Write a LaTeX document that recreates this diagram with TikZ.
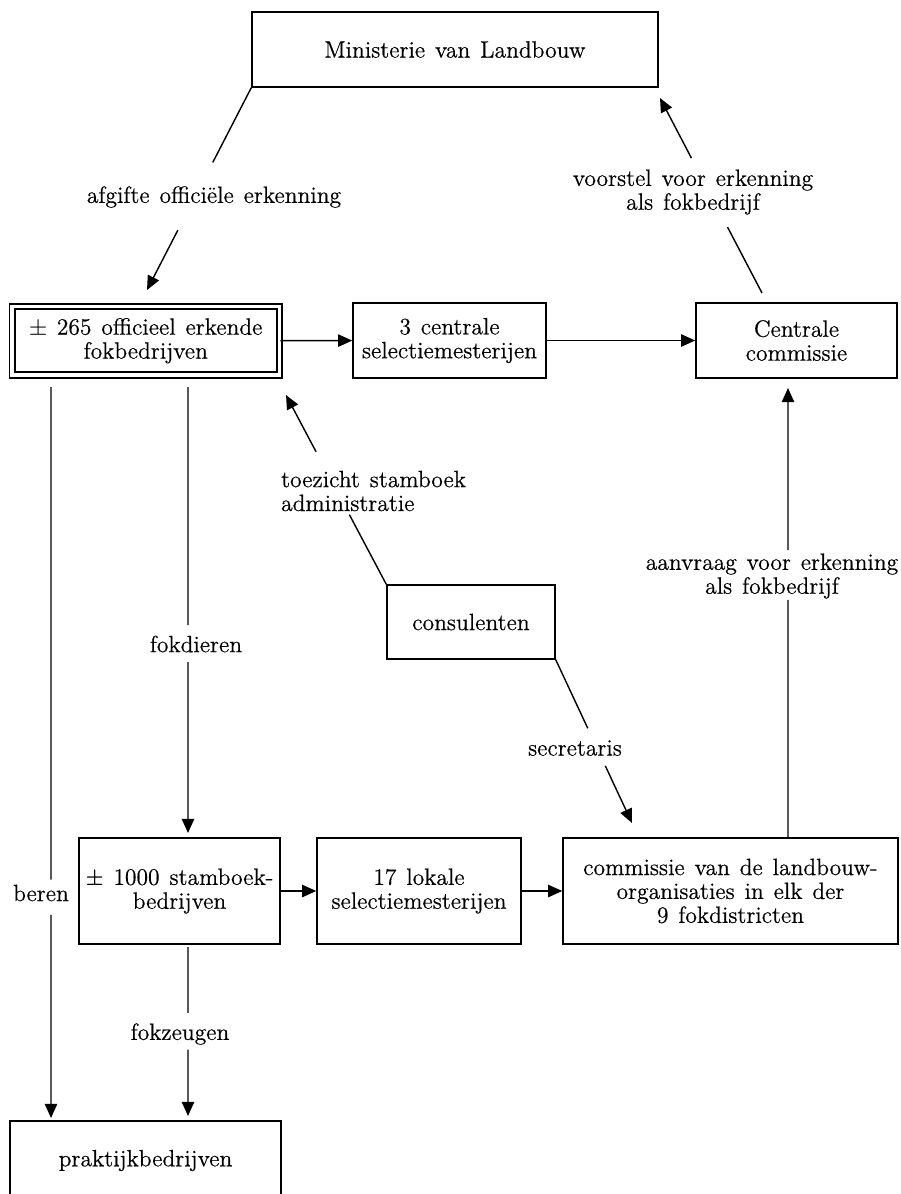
\documentclass[tikz,border=0pt]{standalone}
\usepackage{fontspec}
\setmainfont{Latin Modern Roman}[FakeBold=0.5]
\usepackage{tikz}
\usetikzlibrary{calc,arrows.meta}
\def\gapline(#1)(#2)(#3:#4){\draw[con] (#1) -- ($(#1)!#3!(#2)$); \draw[arr] ($(#1)!#4!(#2)$) -- (#2);}
\def\diagfont{\fontsize{13.4}{13.6}\selectfont\spaceskip=0.42em plus 0.1em minus 0.05em\relax}
\tikzset{
  box/.style={draw, line width=0.9pt, align=center, inner sep=2pt},
  lbl/.style={align=center, inner sep=1pt},
  con/.style={line width=0.8pt},
  arr/.style={line width=0.8pt, -{Triangle[length=8pt,width=7pt]}}
}

\begin{document}
\begin{tikzpicture}[x=0.02cm, y=-0.02cm, font=\diagfont]
			%%%%% START %%%%%
			\useasboundingbox (0,0) rectangle (900,1194);
			\clip (0,0) rectangle (900,1194);
			
			\node[box, minimum width=8.12cm, minimum height=1.5cm] (min) at (455,49.5) {Ministerie van Landbouw};
			
			\node[box, double, double distance=2.2pt, minimum width=5.35cm, minimum height=1.37cm] (b265) at (145.75,340.75) {± 265 officieel erkende\\fokbedrijven};
			\node[box, minimum width=3.86cm, minimum height=1.5cm] (c3) at (449.5,340.5) {3 centrale\\selectiemesterijen};
			\node[box, minimum width=4.02cm, minimum height=1.5cm] (cc) at (796.5,340.5) {Centrale\\commissie};
			
			\node[box, minimum width=3.36cm, minimum height=1.48cm] (cons) at (471,622) {consulenten};
			
			\node[box, minimum width=4.02cm, minimum height=2.12cm] (b1000) at (179.5,891) {± 1000 stamboek-\\bedrijven};
			\node[box, minimum width=4.08cm, minimum height=2.12cm] (l17) at (419,891) {17 lokale\\selectiemesterijen};
			\node[box, minimum width=6.7cm, minimum height=2.12cm] (com) at (730.5,891) {commissie van de landbouw-\\organisaties in elk der\\9 fokdistricten};
			
			\node[box, minimum width=5.42cm, minimum height=1.58cm] (prak) at (145.5,1160.5) {praktijkbedrijven};
			
			% labels on the connectors
			\node[lbl] (afg) at (214,197) {afgifte officiële erkenning};
			\node[lbl] (vst) at (693,192) {voorstel voor erkenning\\als fokbedrijf};
			\node[lbl, anchor=west, align=left] (tzt) at (279,491) {toezicht stamboek\\administratie};
			\node[lbl] (aanv) at (772,576) {aanvraag voor erkenning\\als fokbedrijf};
			\node[lbl] (fokd) at (196,644) {fokdieren};
			\node[lbl] (secr) at (575,748) {secretaris};
			\node[lbl] (beren) at (41,893) {beren};
			\node[lbl] (fokz) at (180,1034) {fokzeugen};
			
			\coordinate (afgEnd) at (147,290);
			\coordinate (vstStart) at (762,293);
			\coordinate (vstEnd) at (660,98);
			\coordinate (tztEnd) at (286,395);
			\coordinate (secrEnd) at (632,823);
			\coordinate (aanvStart) at (788,838);
			\coordinate (aanvEnd) at (788,388);
			\coordinate (fokdStart) at (188,387);
			\coordinate (fokdEnd) at (188,833);
			\coordinate (berenStart) at (51,387);
			\coordinate (berenEnd) at (51,1118);
			\coordinate (fokzStart) at (188,947);
			\coordinate (fokzEnd) at (188,1116);
			
			\gapline(min.south west)(afgEnd)(0.369:0.704)
			\gapline(vstStart)(vstEnd)(0.338:0.692)
			\gapline(cons.north west)(tztEnd)(0.368:0.70)
			\gapline(cons.south east)(secrEnd)(0.42:0.65)
			\gapline(aanvStart)(aanvEnd)(0.529:0.64)
			\gapline(fokdStart)(fokdEnd)(0.534:0.617)
			\gapline(berenStart)(berenEnd)(0.674:0.722)
			\gapline(fokzStart)(fokzEnd)(0.39:0.607)
			
			\draw[arr] (b265) -- (c3);
			\draw[arr] (c3) -- (cc);
			\draw[arr] (b1000) -- (l17);
			\draw[arr] (l17) -- (com);
			
			%%%%% END %%%%%
\end{tikzpicture}
\end{document}
